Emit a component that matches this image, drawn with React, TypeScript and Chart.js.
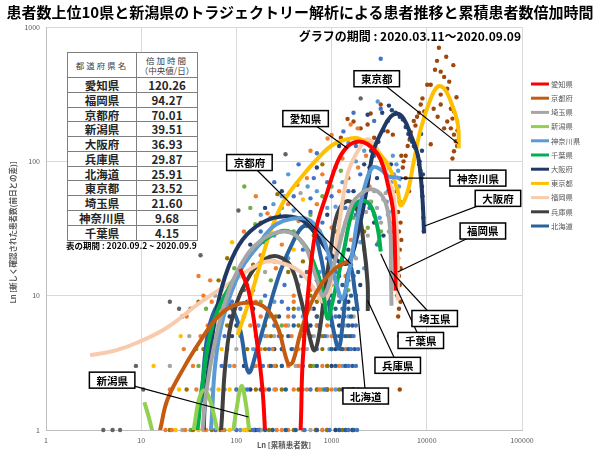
import React, { useEffect, useRef } from "react";
import { Chart, registerables } from "chart.js";
Chart.register(...registerables);

const FONT = '"Noto Sans CJK JP", "Noto Sans", sans-serif';

const TITLE = "患者数上位10県と新潟県のトラジェクトリー解析による患者推移と累積患者数倍加時間";
const SUBTITLE = "グラフの期間 : 2020.03.11～2020.09.09";
const X_TITLE = "Ln [累積患者数]";
const Y_TITLE = "Ln [新しく確認された患者数(前日との差)]";
const X_TICKS = [1, 10, 100, 1000, 10000, 100000];
const Y_TICKS = [1, 10, 100, 1000];

const TABLE_HEAD_1 = "都道府県名";
const TABLE_HEAD_2A = "倍加時間";
const TABLE_HEAD_2B = "（中央値/日）";
const TABLE_PREFS = ["愛知県", "福岡県", "京都府", "新潟県", "大阪府", "兵庫県", "北海道", "東京都", "埼玉県", "神奈川県", "千葉県"];
const TABLE_DAYS = ["120.26", "94.27", "70.01", "39.51", "36.93", "29.87", "25.91", "23.52", "21.60", "9.68", "4.15"];
const TABLE_CAPTION = "表の期間 : 2020.09.2 ~ 2020.09.9";

type P = [number, number | null];

// trajectory curves: [cumulative cases, new cases]; null = break
const AICHI: P[] = [[110, 15.8], [134, 10.9], [164, 4.6], [188, 2.0], [202, 0.84], [202, null],
  [450, 0.77], [472, 1], [495, 3.1], [560, 9.7], [679, 30], [908, 60], [1160, 100], [1470, 129], [1880, 140], [2390, 134], [3050, 113], [3530, 89], [3980, 63], [4390, 45], [4600, 25.6], [4710, 10.9]];
const KYOTO: P[] = [[14.7, 0.84], [15.8, 1], [18.8, 1.67], [28, 2.9], [41.8, 4.6], [63, 6.9], [92, 8.4], [141, 8.9], [202, 8.1], [270, 5.9], [350, 3.1], [390, 3.2], [472, 5.3], [600, 8.6], [800, 12.5], [1100, 16], [1500, 18]];
const SAITAMA: P[] = [[41.8, 0.84], [44, 1], [47, 1.67], [57, 3.9], [77, 9.2], [110, 16.7], [179, 25.6], [330, 30], [507, 24.3], [679, 14.1], [824, 10], [1100, 18.7], [1585, 46], [2080, 58], [2640, 62], [3380, 55.5], [3890, 42.7], [4170, 27.6], [4200, 15.3], [4260, 8.4]];
const NIIGATA: P[] = [[10.8, 1.61], [12, 1.25], [13.1, 0.97], [13.5, 0.85], [13.5, null],
  [34.4, 0.84], [37, 1.19], [40.8, 1.73], [46, 1.98], [52, 1.73], [59, 1.23], [63, 0.97], [64, 0.85], [64, null],
  [90, 0.84], [100, 1.41], [113, 2.12], [124, 1.67], [134, 1.09], [138, 0.84]];
const KANAGAWA: P[] = [[52, 0.84], [54.5, 1.09], [60, 3.1], [73, 6.9], [110, 15.3], [167, 23.4], [228, 31.4], [312, 36], [472, 37.9], [601, 36], [766, 29.3], [908, 21.5], [1100, 12.9], [1300, 9.5], [1585, 17.6], [1920, 41], [2280, 68.7], [2700, 90], [3280, 87], [3980, 77], [4820, 76], [5440, 73]];
const CHIBA: P[] = [[37, 0.84], [39.6, 1.09], [43, 1.98], [57, 6.2], [92, 12.9], [151, 21.5], [212, 26.9], [340, 30.3], [507, 24.3], [649, 17.6], [808, 10.9], [908, 6.75], [1030, 9.2], [1340, 21.5], [1670, 43.5], [2020, 51], [2570, 46.6], [3050, 31.6], [3280, 21.3]];
const OSAKA: P[] = [[45, 0.84], [47, 1.67], [57, 5.5], [71, 11.8], [98, 21.5], [141, 30.3], [245, 37.9], [437, 37.9], [646, 30.3], [908, 21.5], [1245, 17.6], [1500, 17.6], [1880, 28.7], [2390, 67.5], [2750, 119], [3480, 175], [4170, 215], [4950, 226], [5710, 208], [6780, 158], [8000, 113], [8630, 77.5], [9100, 46.5], [9350, 29.2]];
const TOKYO: P[] = [[103, 5.1], [140, 9.7], [179, 17.3], [228, 30], [312, 50], [472, 75], [713, 105], [1050, 134], [1580, 148], [2020, 146], [2770, 125], [3880, 95], [4950, 60], [5330, 47], [6310, 60], [7300, 100], [8650, 175], [11000, 293], [13000, 360], [15100, 350], [17900, 278], [21200, 188], [21700, 125]];
const FUKUOKA: P[] = [[2.9, 3.6], [5.3, 3.9], [9.3, 4.5], [18.8, 5.8], [41.8, 8.9], [93, 12.9], [188, 17.6], [291, 17.6], [472, 15], [640, 11.5], [820, 9.0], [976, 11.9], [1150, 27], [1470, 80], [1880, 119], [2390, 146], [3050, 121], [3530, 95.7], [3980, 71.2], [4390, 60], [4710, 39.5], [4950, 21.5], [4960, 9.2]];
const HYOGO: P[] = [[66, 0.84], [69, 1], [76.8, 3.14], [93, 7.37], [141, 14.5], [202, 18.8], [271, 19.6], [370, 16.7], [472, 9.6], [601, 4.64], [660, 3.91], [730, 4.9], [824, 9.2], [976, 21.5], [1150, 40.6], [1470, 50.6], [1880, 42.7], [2170, 24.3], [2390, 12.3], [2400, 7.7]];
const HOKKAIDO: P[] = [[43, 1.6], [48, 4.3], [56, 7.1], [71, 9.2], [90, 8.0], [110, 5.5], [134, 2.69], [167, 4.12], [212, 7.36], [291, 15.3], [398, 25.6], [507, 32.9], [630, 31.4], [766, 19.8], [908, 10], [1050, 5.5], [1190, 4.05], [1330, 7], [1470, 14], [1600, 16], [1750, 11], [1880, 7.7]];

const LINE_NAMES = ["愛知県", "京都府", "埼玉県", "新潟県", "神奈川県", "千葉県", "大阪府", "東京都", "福岡県", "兵庫県", "北海道"];
const LINE_DATA = [AICHI, KYOTO, SAITAMA, NIIGATA, KANAGAWA, CHIBA, OSAKA, TOKYO, FUKUOKA, HYOGO, HOKKAIDO];
const LINE_COLORS = ["#FF0000", "#C55A11", "#A6A6A6", "#92D050", "#5B9BD5", "#00B050", "#203864", "#FFC000", "#F8CBAD", "#404040", "#2A62A0"];

// daily observations (scatter dots) grouped by dot colour
const DOTS_BLUE: [number, number][] = [[60, 1], [100, 1], [150, 1], [170, 1], [520, 1], [950, 1], [1500, 1], [1850, 1],
  [100, 2], [130, 2], [600, 2], [1500, 2], [1900, 2], [850, 2], [70, 3], [190, 3], [500, 3], [1500, 3], [1800, 3],
  [55, 4], [220, 4], [700, 4], [1600, 4], [1900, 4], [75, 5], [280, 5], [850, 5], [1700, 5], [65, 6], [250, 6], [750, 6], [1800, 6],
  [60, 7], [400, 7], [1100, 7], [110, 8], [350, 8], [1300, 8], [90, 9], [300, 9], [1000, 9], [200, 10], [800, 10],
  [150, 11], [320, 12], [700, 13], [1100, 15], [1600, 17], [250, 18], [480, 14], [900, 19],
  [200, 25], [350, 30], [500, 22], [800, 35], [1200, 28], [1800, 40], [2500, 45], [600, 42], [3000, 24],
  [180, 30], [280, 40], [400, 55], [650, 75], [1000, 55], [1500, 60], [2200, 50], [250, 70], [750, 25], [1400, 45], [2400, 70],
  [600, 53], [900, 70], [1330, 167], [2000, 80], [2800, 110], [3280, 246], [1100, 90], [700, 115], [450, 95], [1800, 130], [3280, 580], [2800, 200], [1700, 230]];
const DOTS_BLUE2: [number, number][] = [[200, 1], [240, 1], [330, 1], [420, 1], [700, 1], [1200, 1], [1400, 1], [1700, 1],
  [180, 2], [220, 2], [330, 2], [480, 2], [1300, 2], [1650, 2], [230, 3], [300, 3], [700, 3], [1100, 3], [1400, 3], [1650, 3],
  [300, 4], [380, 4], [1000, 4], [1300, 4], [1500, 4], [1750, 4], [350, 5], [600, 5], [1100, 5], [1200, 5], [1400, 5], [1600, 5],
  [400, 6], [1000, 6], [1300, 6], [1500, 6], [1650, 6], [700, 7], [1200, 7], [1350, 7], [1600, 7],
  [550, 8], [1100, 8], [1500, 8], [1700, 8], [800, 9], [1200, 9], [1400, 9], [1000, 10], [1400, 10], [1600, 10], [1800, 10],
  [1300, 12], [1500, 13], [1700, 14], [1900, 15], [1200, 14], [1600, 16]];
const DOTS_ORANGE: [number, number][] = [[18, 1], [21, 1], [29, 1], [48, 1], [72, 1], [265, 1], [500, 1], [800, 1],
  [20, 2], [38, 2], [120, 2], [400, 2], [1000, 2], [260, 2], [35, 3], [95, 3], [160, 3], [350, 3], [1200, 3], [220, 3],
  [28, 4], [60, 4], [180, 4], [450, 4], [1400, 4], [42, 5], [160, 5], [380, 5], [1000, 5], [50, 6], [140, 6], [330, 6], [900, 6],
  [30, 7], [180, 7], [700, 7], [70, 8], [220, 8], [850, 8], [55, 9], [160, 9], [560, 9], [45, 10], [400, 10],
  [300, 1], [350, 1], [700, 1], [200, 2], [550, 2], [750, 2], [250, 3], [450, 3], [800, 3], [240, 4], [650, 4], [210, 5], [500, 5],
  [260, 6], [700, 6], [350, 7], [500, 8], [400, 9],
  [53, 13], [90, 12], [260, 16], [600, 11], [1400, 14], [180, 20], [40, 14],
  [212, 41], [228, 38], [120, 30], [300, 24], [700, 48], [1000, 32], [1600, 26], [450, 36],
  [160, 55], [350, 48], [550, 75], [800, 80], [1200, 60], [1900, 90], [2300, 110],
  [437, 67], [908, 148], [1585, 188], [1880, 176], [1000, 157], [600, 120], [1300, 105], [2500, 65]];
const DOTS_OLIVE: [number, number][] = [[20, 1], [35, 1], [55, 1], [140, 1], [680, 1], [1300, 1], [30, 2], [48, 2], [300, 2], [700, 2], [1200, 2],
  [50, 3], [260, 3], [900, 3], [45, 4], [130, 4], [800, 4], [55, 5], [230, 5], [80, 6], [450, 6], [120, 7], [950, 7], [33, 8], [40, 9], [700, 9], [75, 10],
  [220, 1], [400, 1], [900, 1], [160, 2], [450, 2], [900, 2], [150, 3], [600, 3], [200, 4], [500, 4], [1000, 4], [300, 5], [800, 5],
  [200, 6], [700, 6], [260, 7], [400, 8], [600, 10],
  [65, 13], [80, 19], [150, 17], [500, 18], [1000, 12], [270, 57], [180, 35], [650, 28], [1300, 45], [2200, 30], [800, 95], [1500, 75],
  [200, 25], [350, 15], [1100, 30]];
const DOTS_GOLD: [number, number][] = [[23, 1], [40, 1], [62, 1], [85, 1], [120, 1], [130, 1], [25, 2], [65, 2], [85, 2], [100, 2],
  [13.5, 3], [70, 4], [26, 5], [70, 11], [160, 14], [90, 25], [400, 22], [500, 52]];
const DOTS_GRAY: [number, number][] = [[27, 1], [45, 1], [600, 1], [1400, 1], [55, 2], [500, 2], [20, 3], [420, 3], [100, 4], [550, 4], [32, 5], [650, 5],
  [180, 1], [800, 1], [250, 2], [700, 2], [300, 3], [900, 3], [400, 4], [250, 5], [900, 5], [350, 6], [600, 8], [800, 9],
  [1400, 6], [1700, 7], [1800, 8], [60, 10], [200, 15], [450, 12], [1800, 19], [320, 55], [472, 58], [1400, 35], [2400, 28], [4100, 35],
  [2100, 55], [2500, 50], [3000, 45], [3500, 52], [3900, 40], [2800, 60], [3300, 35], [2300, 42], [4000, 30], [3700, 58], [2200, 60]];
const DOTS_LBLUE: [number, number][] = [[110, 1], [1200, 1], [75, 2], [1100, 2], [85, 3], [1300, 3], [150, 4], [950, 4], [200, 5], [1300, 5],
  [170, 6], [500, 7], [1500, 7], [450, 8], [250, 9], [1200, 10], [130, 12], [350, 19], [750, 15], [1700, 20], [2200, 16],
  [245, 48], [400, 43], [250, 28], [550, 33], [1100, 46], [2000, 25], [3200, 38], [4000, 42], [4500, 30], [3800, 50],
  [180, 40], [300, 55], [700, 60], [900, 45], [1300, 70], [1800, 100], [2200, 120],
  [560, 65], [3050, 279], [1500, 137], [2500, 140], [350, 80],
  [4200, 70], [4500, 80], [5000, 85], [3600, 100], [4800, 95], [5300, 75], [3900, 60], [4400, 110], [5100, 65], [3700, 88]];
const DOTS_GREEN: [number, number][] = [[33, 1], [75, 1], [125, 1], [45, 2], [800, 2], [40, 3], [650, 3], [38, 4], [300, 4],
  [110, 5], [300, 6], [220, 7], [48, 8], [180, 9], [95, 16], [230, 13], [650, 17], [1500, 11],
  [158, 34], [300, 45], [121, 65], [800, 55], [1250, 85], [140, 45], [400, 30], [600, 40], [1000, 65],
  [1700, 38], [2000, 45], [2400, 32], [2800, 40], [3100, 25], [3300, 30], [2200, 22], [2600, 50]];
const DOTS_NAVY: [number, number][] = [[155, 1], [160, 1], [175, 1], [180, 1], [1100, 1], [1650, 1], [140, 2], [900, 2], [1700, 2],
  [120, 3], [1000, 3], [80, 4], [250, 4], [1100, 4], [90, 5], [500, 5], [100, 6], [600, 6], [1200, 6], [85, 7], [280, 7],
  [150, 8], [650, 8], [130, 9], [1500, 9], [110, 14], [400, 16], [850, 11], [1300, 18], [2000, 12],
  [140, 24], [420, 28], [900, 40], [1500, 22], [2800, 35], [3500, 28], [2390, 222], [1200, 130], [2200, 95], [3000, 75], [4200, 95],
  [200, 45], [300, 60], [700, 90], [1700, 60], [2500, 90],
  [3500, 170], [3900, 200], [4300, 240], [4700, 230], [5200, 215], [5600, 205], [6000, 180], [6400, 160], [7000, 140], [7600, 125],
  [8000, 110], [8300, 95], [8600, 85], [8800, 75], [8900, 65], [9000, 55], [9100, 45], [9200, 38], [9300, 30], [8400, 100],
  [7300, 130], [6700, 150], [2600, 120], [3100, 140], [8700, 160], [8900, 120], [9100, 80], [4000, 260], [3400, 230]];
const DOTS_DGRAY: [number, number][] = [[4, 1], [5, 1], [6, 1], [68, 1], [900, 1], [10.5, 2], [8.8, 3], [600, 3], [1250, 4], [1500, 5],
  [25, 8], [20, 9], [42, 20], [120, 11], [550, 15], [27, 7], [105, 43], [750, 30], [1900, 48], [328, 113], [2020, 294], [180, 90]];
const DOTS_BROWN: [number, number][] = [[1470, 207], [1700, 198], [2020, 176], [2390, 188], [2570, 227], [3280, 265], [3880, 167], [4400, 158], [1250, 150], [2800, 150],
  [12200, 480], [14000, 465], [15200, 425], [17200, 392], [11000, 372], [10100, 372], [9000, 294], [8630, 265], [9400, 235], [11800, 246],
  [14000, 265], [17900, 246], [19300, 235], [18600, 208], [16400, 198], [15200, 176], [17900, 176], [19300, 158], [20200, 141], [19300, 119],
  [18600, 105], [11000, 134], [14000, 314], [16400, 347], [13400, 700], [12800, 560], [16000, 600], [19000, 520], [20500, 300], [21000, 170],
  [20800, 130], [13000, 215],
  [4800, 60], [5200, 50], [5000, 42], [5300, 35], [5100, 30], [5400, 26], [5200, 22], [5000, 19], [5300, 16], [5100, 14], [5200, 12],
  [4900, 10], [5300, 9], [5100, 8], [5000, 7], [5200, 2], [5100, 5], [5400, 110], [5600, 90], [6000, 75], [6500, 60],
  [6300, 130], [6800, 165], [7300, 200], [7900, 215], [8300, 230], [6000, 110], [6600, 145], [7600, 185], [5700, 100]];

const DOT_SETS = [DOTS_BLUE, DOTS_BLUE2, DOTS_ORANGE, DOTS_OLIVE, DOTS_GOLD, DOTS_GRAY, DOTS_LBLUE, DOTS_GREEN, DOTS_NAVY, DOTS_DGRAY, DOTS_BROWN];
const DOT_COLORS = ["#4472C4", "#255E91", "#ED7D31", "#997300", "#FFC000", "#A5A5A5", "#5B9BD5", "#70AD47", "#264478", "#636363", "#9E480E"];

// callouts: label, box anchor (data units), target (data units)
const CALLOUT_NAMES = ["東京都", "愛知県", "京都府", "神奈川県", "大阪府", "福岡県", "埼玉県", "千葉県", "兵庫県", "北海道", "新潟県"];
const CALLOUT_BOX_X = [2980, 533, 137, 34400, 55900, 38800, 12100, 8650, 4950, 2280, 4.95];
const CALLOUT_BOX_Y = [412, 208, 98, 75, 53, 30.3, 6.76, 4.64, 3.03, 1.79, 2.35];
const CALLOUT_TARGET_X = [21200, 1470, 1585, 5320, 9500, 4950, 4170, 3280, 2390, 1880, 134];
const CALLOUT_TARGET_Y = [136, 125, 17.3, 75, 33, 15, 15.3, 20.5, 9.2, 7.74, 1.25];

const calloutPlugin = {
  id: "callouts",
  afterDatasetsDraw(chart: any) {
    const { ctx } = chart;
    const xs = chart.scales.x, ys = chart.scales.y;
    ctx.save();
    ctx.strokeStyle = "#000";
    ctx.lineWidth = 1.2;
    CALLOUT_NAMES.forEach((_, i) => {
      ctx.beginPath();
      ctx.moveTo(xs.getPixelForValue(CALLOUT_BOX_X[i]), ys.getPixelForValue(CALLOUT_BOX_Y[i]));
      ctx.lineTo(xs.getPixelForValue(CALLOUT_TARGET_X[i]), ys.getPixelForValue(CALLOUT_TARGET_Y[i]));
      ctx.stroke();
    });
    ctx.font = `bold 10.5px ${FONT}`;
    ctx.textAlign = "center";
    ctx.textBaseline = "middle";
    CALLOUT_NAMES.forEach((name, i) => {
      const bx = xs.getPixelForValue(CALLOUT_BOX_X[i]);
      const by = ys.getPixelForValue(CALLOUT_BOX_Y[i]);
      const w = ctx.measureText(name).width + 14;
      const h = 16;
      ctx.fillStyle = "#fff";
      ctx.fillRect(bx - w / 2, by - h / 2, w, h);
      ctx.lineWidth = 1.5;
      ctx.strokeStyle = "#000";
      ctx.strokeRect(bx - w / 2, by - h / 2, w, h);
      ctx.fillStyle = "#000";
      ctx.fillText(name, bx, by + 0.5);
    });
    ctx.restore();
  },
};

const sidePlugin = {
  id: "side",
  afterDraw(chart: any) {
    const { ctx, chartArea: a } = chart;
    ctx.save();
    ctx.font = `7.3px ${FONT}`;
    ctx.textBaseline = "middle";
    ctx.textAlign = "left";
    LINE_NAMES.forEach((n, i) => {
      const y = a.top + 57 + i * 14.2;
      ctx.strokeStyle = LINE_COLORS[i];
      ctx.lineWidth = 3;
      ctx.beginPath();
      ctx.moveTo(a.right + 9, y);
      ctx.lineTo(a.right + 27, y);
      ctx.stroke();
      ctx.fillStyle = "#595959";
      ctx.fillText(n, a.right + 29, y);
    });
    ctx.fillStyle = "#595959";
    ctx.font = `bold 7.5px ${FONT}`;
    ctx.textAlign = "center";
    ctx.fillText(X_TITLE, (a.left + a.right) / 2, a.bottom + 15);
    ctx.translate(13, (a.top + a.bottom) / 2 + 4);
    ctx.rotate(-Math.PI / 2);
    ctx.fillText(Y_TITLE, 0, 0);
    ctx.restore();
  },
};

export default function App() {
  const ref = useRef<HTMLCanvasElement>(null);
  useEffect(() => {
    document.body.style.margin = "0";
    const datasets: any[] = [];
    LINE_DATA.forEach((d, i) => {
      datasets.push({
        label: LINE_NAMES[i],
        data: d.map(([x, y]) => ({ x, y })),
        showLine: true,
        borderColor: LINE_COLORS[i],
        backgroundColor: LINE_COLORS[i],
        borderWidth: 4,
        pointRadius: 0,
        tension: 0.4,
        spanGaps: false,
        clip: 0,
        order: 1,
      });
    });
    DOT_SETS.forEach((d, i) => {
      datasets.push({
        label: "dots" + i,
        data: d.map(([x, y]) => ({ x, y })),
        showLine: false,
        pointRadius: 2.2,
        pointBorderWidth: 0,
        pointBackgroundColor: DOT_COLORS[i],
        backgroundColor: DOT_COLORS[i],
        clip: 6,
        order: 2,
      });
    });
    const tickFont = { size: 7, family: FONT };
    const chart = new Chart(ref.current!, {
      type: "scatter",
      data: { datasets },
      options: {
        responsive: false,
        animation: false,
        layout: { padding: { top: 27, right: 78, left: 0, bottom: 0 } },
        plugins: { legend: { display: false }, tooltip: { enabled: false }, title: { display: false } },
        scales: {
          x: {
            type: "logarithmic",
            min: 1,
            max: 100000,
            afterBuildTicks: (s: any) => { s.ticks = X_TICKS.map((v) => ({ value: v })); },
            afterFit: (s: any) => { s.height = 21; },
            grid: { color: "#D9D9D9", drawTicks: false },
            border: { color: "#BFBFBF" },
            ticks: { font: tickFont, color: "#595959", padding: 6, autoSkip: false, maxRotation: 0, callback: (v: any) => String(v) },
          },
          y: {
            type: "logarithmic",
            min: 1,
            max: 1000,
            afterBuildTicks: (s: any) => { s.ticks = Y_TICKS.map((v) => ({ value: v })); },
            afterFit: (s: any) => { s.width = 46; },
            grid: { color: "#D9D9D9", drawTicks: false },
            border: { color: "#BFBFBF" },
            ticks: { font: tickFont, color: "#595959", padding: 6, autoSkip: false, callback: (v: any) => String(v) },
          },
        },
      } as any,
      plugins: [calloutPlugin, sidePlugin],
    });
    return () => chart.destroy();
  }, []);

  const cellBorder = "1px solid #7F7F7F";
  return (
    <div style={{ position: "relative", width: 600, height: 451, background: "#fff", fontFamily: FONT, overflow: "hidden" }}>
      <canvas ref={ref} width={600} height={451} style={{ position: "absolute", left: 0, top: 0, width: 600, height: 451 }} />
      <div style={{ position: "absolute", left: 0, top: 0, width: 600, textAlign: "center", fontSize: 15, fontWeight: "bold", lineHeight: "24px", whiteSpace: "nowrap", color: "#000" }}>{TITLE}</div>
      <div style={{ position: "absolute", right: 79, top: 28, fontSize: 12, fontWeight: "bold", lineHeight: "16px", whiteSpace: "nowrap", color: "#000" }}>{SUBTITLE}</div>
      <div style={{ position: "absolute", left: 67, top: 52, width: 131, background: "#fff", border: cellBorder, boxSizing: "border-box" }}>
        <div style={{ display: "flex", height: 25, borderBottom: cellBorder, boxSizing: "border-box" }}>
          <div style={{ width: 68, borderRight: cellBorder, display: "flex", alignItems: "center", justifyContent: "center", fontSize: 8.5, letterSpacing: 2, color: "#404040" }}>{TABLE_HEAD_1}</div>
          <div style={{ flex: 1, display: "flex", flexDirection: "column", alignItems: "center", justifyContent: "center", fontSize: 8.5, lineHeight: "10px", color: "#404040" }}>
            <span style={{ letterSpacing: 2 }}>{TABLE_HEAD_2A}</span>
            <span>{TABLE_HEAD_2B}</span>
          </div>
        </div>
        {TABLE_PREFS.map((p, i) => (
          <div key={p} style={{ display: "flex", height: 14.75, borderBottom: i < TABLE_PREFS.length - 1 ? cellBorder : "none", boxSizing: "border-box" }}>
            <div style={{ width: 68, borderRight: cellBorder, textAlign: "center", fontSize: 11.5, fontWeight: "bold", lineHeight: "14px", color: "#262626" }}>{p}</div>
            <div style={{ flex: 1, textAlign: "center", fontSize: 11.5, fontWeight: "bold", lineHeight: "14px", color: "#262626" }}>{TABLE_DAYS[i]}</div>
          </div>
        ))}
      </div>
      <div style={{ position: "absolute", left: 66, top: 240, fontSize: 8.5, fontWeight: "bold", lineHeight: "11px", whiteSpace: "nowrap", color: "#000" }}>{TABLE_CAPTION}</div>
    </div>
  );
}
